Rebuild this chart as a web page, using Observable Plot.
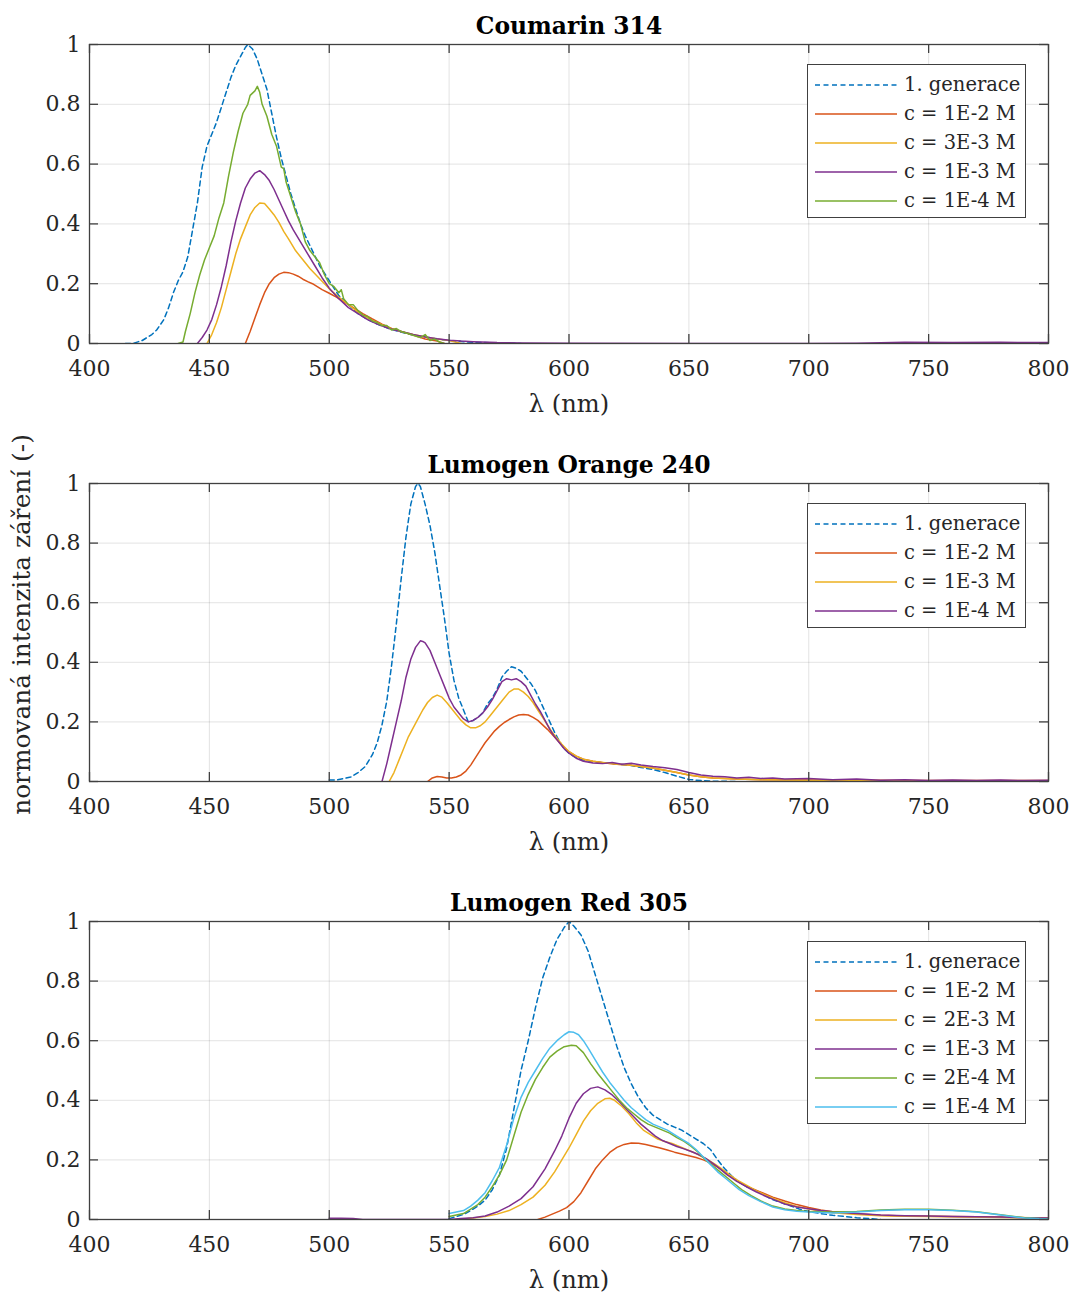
<!DOCTYPE html>
<html>
<head>
<meta charset="utf-8">
<script src="https://cdn.jsdelivr.net/npm/d3@7"></script>
<script src="https://cdn.jsdelivr.net/npm/@observablehq/plot@0.6"></script>
<style>
  body { margin: 0; background: #fff; }
  .panel { position: relative; width: 1073px; }
  .legend { position: absolute; background: #fff; border: 1.3px solid #404040; box-sizing: border-box;
            font-family: "DejaVu Serif", serif; font-size: 19.5px; color: #262626; padding: 5px 0 2px 0; }
  .legend .row { height: 29px; display: flex; align-items: center; }
  .legend svg { margin-left: 7px; margin-right: 7px; flex: none; }
</style>
</head>
<body>
<div id="root"></div>
<script>
// ---------- tick values ----------
const xTicks = [400, 450, 500, 550, 600, 650, 700, 750, 800];
const yTicks = [0, 0.2, 0.4, 0.6, 0.8, 1];

// ---------- panel titles ----------
const titles = ["Coumarin 314", "Lumogen Orange 240", "Lumogen Red 305"];
const xLabel = "λ (nm)";
const yLabel = "normovaná intenzita záření (-)";

// ---------- Coumarin 314 ----------
const c314_labels = ["1. generace", "c = 1E-2 M", "c = 3E-3 M", "c = 1E-3 M", "c = 1E-4 M"];
const c314_gen1 = [[415,0],[418,0],[422,0.01],[426,0.03],[428,0.045],[431,0.08],[433,0.12],[435,0.17],[437,0.21],[439,0.24],[441,0.29],[443,0.38],[445,0.47],[447,0.59],[449,0.66],[451,0.70],[453,0.74],[455,0.79],[457,0.84],[459,0.89],[461,0.93],[463,0.96],[465,0.99],[466,1.0],[468,0.985],[470,0.95],[472,0.90],[474,0.85],[476,0.77],[478,0.69],[480,0.62],[482,0.56],[484,0.50],[486,0.45],[488,0.40],[490,0.36],[493,0.31],[496,0.26],[500,0.21],[504,0.16],[508,0.13],[512,0.10],[516,0.08],[520,0.065],[525,0.05],[530,0.038],[535,0.028],[540,0.022],[545,0.015],[550,0.01],[555,0.007],[560,0.004],[570,0.002],[580,0]];
const c314_1e2 = [[465,0],[467,0.04],[469,0.085],[471,0.13],[473,0.17],[475,0.2],[477,0.22],[479,0.232],[481,0.238],[483,0.237],[485,0.232],[487,0.225],[489,0.215],[491,0.207],[493,0.2],[495,0.19],[497,0.18],[500,0.168],[503,0.155],[506,0.14],[510,0.12],[514,0.1],[518,0.082],[522,0.065],[526,0.05],[530,0.04],[535,0.028],[540,0.015],[545,0.008],[548,0]];
const c314_3e3 = [[449,0],[451,0.03],[453,0.07],[455,0.12],[457,0.18],[459,0.24],[461,0.30],[463,0.35],[465,0.39],[467,0.43],[469,0.455],[471,0.47],[473,0.468],[475,0.45],[477,0.43],[479,0.405],[481,0.375],[483,0.35],[486,0.31],[489,0.28],[492,0.25],[495,0.225],[498,0.20],[501,0.175],[504,0.155],[508,0.13],[512,0.105],[516,0.085],[520,0.07],[525,0.052],[530,0.04],[535,0.03],[540,0.022],[545,0.015],[550,0.01],[555,0]];
const c314_1e3 = [[445,0],[447,0.02],[449,0.045],[451,0.08],[453,0.13],[455,0.19],[457,0.26],[459,0.34],[461,0.41],[463,0.47],[465,0.52],[467,0.55],[469,0.57],[471,0.578],[473,0.565],[475,0.545],[477,0.515],[479,0.48],[481,0.445],[483,0.41],[485,0.38],[488,0.34],[491,0.30],[494,0.26],[497,0.22],[500,0.185],[504,0.15],[508,0.12],[512,0.10],[516,0.08],[520,0.065],[525,0.05],[530,0.04],[535,0.03],[540,0.022],[545,0.016],[550,0.011],[555,0.008],[560,0.006],[570,0.003],[580,0.002],[600,0.001],[650,0],[700,0],[720,0.001],[740,0.004],[760,0.003],[780,0.004],[800,0.003]];
const c314_1e4 = [[437,0],[439,0.005],[440,0.04],[442,0.1],[444,0.17],[446,0.23],[448,0.28],[450,0.32],[452,0.36],[454,0.42],[456,0.47],[458,0.56],[460,0.64],[462,0.71],[464,0.77],[466,0.80],[467,0.83],[469,0.845],[470,0.86],[471,0.84],[472,0.80],[474,0.76],[476,0.70],[478,0.66],[480,0.59],[481,0.585],[482,0.54],[484,0.49],[486,0.44],[488,0.40],[490,0.34],[492,0.31],[494,0.29],[496,0.27],[498,0.23],[500,0.20],[502,0.19],[504,0.17],[505,0.18],[506,0.15],[508,0.13],[510,0.13],[512,0.11],[514,0.095],[516,0.09],[518,0.075],[520,0.07],[522,0.06],[524,0.06],[526,0.045],[528,0.05],[530,0.04],[532,0.035],[534,0.03],[536,0.025],[538,0.02],[540,0.03],[542,0.01],[544,0.015],[546,0.005],[548,0]];

// ---------- Lumogen Orange 240 ----------
const lo240_labels = ["1. generace", "c = 1E-2 M", "c = 1E-3 M", "c = 1E-4 M"];
const lo240_gen1 = [[500,0.005],[503,0.005],[506,0.01],[509,0.015],[512,0.03],[515,0.05],[518,0.09],[520,0.13],[522,0.19],[524,0.27],[526,0.39],[528,0.53],[530,0.68],[532,0.82],[534,0.93],[536,0.99],[537,1.0],[538,0.99],[540,0.93],[542,0.86],[544,0.77],[546,0.66],[548,0.55],[550,0.43],[552,0.34],[554,0.28],[556,0.24],[558,0.2],[560,0.205],[562,0.215],[564,0.23],[566,0.26],[568,0.28],[570,0.31],[572,0.35],[574,0.37],[576,0.385],[578,0.38],[580,0.37],[582,0.35],[584,0.33],[586,0.305],[588,0.27],[590,0.235],[592,0.2],[594,0.165],[596,0.135],[598,0.11],[600,0.095],[603,0.08],[606,0.072],[610,0.066],[615,0.063],[620,0.058],[625,0.055],[630,0.047],[635,0.04],[640,0.03],[645,0.018],[650,0.007],[655,0.003],[660,0.001],[670,0]];
const lo240_1e2 = [[541,0],[543,0.012],[545,0.017],[547,0.015],[549,0.012],[551,0.012],[553,0.015],[555,0.022],[557,0.035],[559,0.055],[561,0.08],[563,0.105],[565,0.13],[567,0.15],[569,0.17],[571,0.185],[573,0.198],[575,0.208],[577,0.217],[579,0.223],[581,0.225],[583,0.223],[585,0.215],[587,0.205],[589,0.19],[591,0.175],[593,0.158],[595,0.14],[597,0.122],[600,0.1],[603,0.085],[606,0.075],[610,0.068],[615,0.062],[620,0.058],[625,0.055],[630,0.05],[635,0.045],[640,0.038],[645,0.03],[650,0.022],[655,0.016],[660,0.012],[670,0.008],[680,0.006],[700,0.005],[720,0.004],[750,0.003],[800,0.003]];
const lo240_1e3 = [[525,0],[527,0.03],[529,0.07],[531,0.11],[533,0.15],[535,0.18],[537,0.21],[539,0.24],[541,0.265],[543,0.282],[545,0.29],[547,0.283],[549,0.265],[551,0.245],[553,0.225],[555,0.205],[557,0.19],[559,0.18],[561,0.18],[563,0.187],[565,0.2],[567,0.22],[569,0.24],[571,0.26],[573,0.28],[575,0.3],[577,0.31],[579,0.31],[581,0.3],[583,0.285],[585,0.265],[587,0.24],[589,0.215],[591,0.19],[593,0.165],[595,0.145],[597,0.125],[600,0.1],[603,0.085],[606,0.075],[610,0.068],[615,0.063],[620,0.058],[625,0.055],[630,0.05],[635,0.045],[640,0.038],[645,0.03],[650,0.022],[655,0.016],[660,0.012],[670,0.008],[680,0.006],[700,0.004],[720,0.003],[750,0.002],[800,0.002]];
const lo240_1e4 = [[522,0],[524,0.06],[526,0.13],[528,0.2],[530,0.27],[532,0.35],[534,0.41],[536,0.45],[538,0.472],[539,0.47],[540,0.465],[542,0.44],[544,0.4],[546,0.36],[548,0.32],[550,0.28],[552,0.25],[554,0.23],[556,0.21],[558,0.2],[560,0.205],[562,0.215],[564,0.23],[566,0.25],[568,0.275],[570,0.305],[572,0.335],[574,0.345],[576,0.341],[578,0.345],[580,0.335],[582,0.32],[584,0.29],[586,0.26],[588,0.235],[590,0.205],[592,0.175],[594,0.15],[596,0.13],[598,0.11],[600,0.095],[603,0.078],[606,0.068],[610,0.062],[614,0.06],[618,0.064],[622,0.058],[626,0.061],[630,0.055],[635,0.05],[640,0.046],[645,0.04],[650,0.03],[655,0.022],[660,0.018],[665,0.016],[670,0.012],[675,0.014],[680,0.01],[685,0.012],[690,0.008],[700,0.01],[710,0.006],[720,0.008],[730,0.004],[740,0.006],[750,0.003],[760,0.005],[770,0.003],[780,0.005],[790,0.003],[800,0.004]];

// ---------- Lumogen Red 305 ----------
const lr305_labels = ["1. generace", "c = 1E-2 M", "c = 2E-3 M", "c = 1E-3 M", "c = 2E-4 M", "c = 1E-4 M"];
const lr305_gen1 = [[550,0.003],[553,0.01],[556,0.017],[559,0.03],[562,0.045],[565,0.065],[568,0.1],[571,0.15],[574,0.24],[577,0.37],[580,0.5],[583,0.6],[586,0.71],[589,0.81],[592,0.88],[595,0.94],[598,0.98],[600,1.0],[602,0.985],[605,0.955],[608,0.9],[611,0.82],[614,0.74],[617,0.66],[620,0.58],[623,0.51],[626,0.455],[629,0.41],[632,0.375],[635,0.35],[638,0.335],[641,0.32],[644,0.31],[647,0.3],[650,0.285],[653,0.27],[656,0.255],[659,0.235],[662,0.2],[665,0.17],[668,0.145],[671,0.125],[674,0.11],[677,0.1],[680,0.09],[684,0.07],[688,0.058],[692,0.047],[696,0.035],[700,0.027],[705,0.02],[710,0.014],[715,0.01],[720,0.006],[725,0.003],[730,0]];
const lr305_1e2 = [[587,0],[590,0.008],[593,0.018],[596,0.028],[599,0.04],[602,0.06],[605,0.09],[608,0.13],[611,0.17],[614,0.2],[617,0.225],[620,0.242],[623,0.252],[626,0.257],[629,0.256],[632,0.252],[635,0.246],[638,0.24],[641,0.233],[644,0.226],[647,0.22],[650,0.214],[653,0.208],[656,0.2],[659,0.19],[662,0.176],[665,0.16],[668,0.142],[671,0.125],[675,0.108],[680,0.092],[685,0.075],[690,0.062],[695,0.05],[700,0.04],[705,0.032],[710,0.026],[720,0.019],[730,0.014],[740,0.012],[760,0.01],[780,0.008],[800,0.004]];
const lr305_2e3 = [[554,0],[560,0.005],[565,0.01],[570,0.018],[575,0.03],[580,0.05],[585,0.075],[590,0.115],[594,0.16],[597,0.2],[600,0.24],[603,0.285],[606,0.33],[609,0.365],[612,0.39],[615,0.405],[617,0.407],[619,0.4],[622,0.38],[625,0.355],[628,0.325],[631,0.3],[634,0.285],[637,0.27],[640,0.262],[643,0.255],[646,0.245],[649,0.235],[652,0.225],[655,0.213],[658,0.2],[661,0.185],[664,0.168],[667,0.15],[670,0.133],[674,0.115],[678,0.097],[682,0.082],[686,0.068],[690,0.056],[695,0.044],[700,0.035],[705,0.028],[710,0.023],[720,0.017],[730,0.013],[740,0.011],[760,0.009],[780,0.007],[800,0.005]];
const lr305_1e3 = [[500,0.004],[505,0.004],[510,0.003],[514,0],[550,0],[555,0.003],[560,0.006],[565,0.012],[570,0.025],[575,0.045],[580,0.07],[585,0.11],[590,0.17],[594,0.23],[597,0.28],[600,0.34],[603,0.39],[606,0.422],[609,0.44],[612,0.445],[615,0.435],[618,0.418],[621,0.395],[624,0.37],[627,0.345],[630,0.32],[633,0.3],[636,0.28],[639,0.265],[642,0.255],[645,0.245],[648,0.237],[651,0.228],[654,0.218],[657,0.205],[660,0.188],[663,0.17],[666,0.15],[670,0.128],[674,0.11],[678,0.093],[682,0.078],[686,0.065],[690,0.052],[695,0.042],[700,0.036],[705,0.03],[710,0.026],[720,0.02],[730,0.015],[740,0.013],[750,0.012],[760,0.01],[770,0.009],[780,0.008],[790,0.006],[800,0.005]];
const lr305_2e4 = [[550,0.01],[553,0.015],[556,0.02],[559,0.035],[562,0.05],[565,0.075],[568,0.11],[571,0.15],[574,0.2],[577,0.28],[580,0.36],[583,0.42],[586,0.47],[589,0.51],[592,0.545],[595,0.565],[598,0.58],[601,0.585],[603,0.583],[606,0.56],[609,0.523],[612,0.49],[615,0.46],[618,0.43],[621,0.4],[624,0.375],[627,0.355],[630,0.335],[633,0.32],[636,0.31],[639,0.3],[642,0.29],[645,0.275],[648,0.262],[651,0.245],[654,0.225],[657,0.2],[660,0.18],[663,0.16],[666,0.14],[669,0.12],[672,0.1],[676,0.08],[680,0.062],[685,0.045],[690,0.035],[695,0.03],[700,0.027],[710,0.025],[720,0.027],[730,0.032],[740,0.034],[750,0.034],[760,0.031],[770,0.026],[780,0.016],[790,0.006],[800,0.002]];
const lr305_1e4 = [[550,0.02],[553,0.025],[556,0.03],[559,0.045],[562,0.065],[565,0.09],[568,0.13],[571,0.175],[574,0.25],[577,0.34],[580,0.41],[583,0.46],[586,0.5],[589,0.54],[592,0.575],[595,0.6],[598,0.62],[600,0.63],[602,0.628],[604,0.62],[606,0.6],[608,0.575],[611,0.535],[614,0.495],[617,0.46],[620,0.43],[623,0.4],[626,0.375],[629,0.355],[632,0.335],[635,0.32],[638,0.31],[641,0.3],[644,0.285],[647,0.27],[650,0.255],[653,0.235],[656,0.21],[659,0.185],[662,0.16],[665,0.14],[668,0.12],[671,0.1],[675,0.08],[680,0.06],[685,0.042],[690,0.033],[695,0.028],[700,0.025],[710,0.022],[720,0.025],[730,0.03],[740,0.033],[750,0.033],[760,0.03],[770,0.025],[780,0.015],[790,0.005],[800,0.002]];

// ---------- colours ----------
const cBlue = "#0072BD", cRed = "#D95319", cYellow = "#EDB120", cPurple = "#7E2F8E", cGreen = "#77AC30", cCyan = "#4DBEEE";
const c314_colors = [cBlue, cRed, cYellow, cPurple, cGreen];
const lo240_colors = [cBlue, cRed, cYellow, cPurple];
const lr305_colors = [cBlue, cRed, cYellow, cPurple, cGreen, cCyan];

const panels = [
  {title: titles[0], labels: c314_labels, colors: c314_colors, data: [c314_gen1, c314_1e2, c314_3e3, c314_1e3, c314_1e4], height: 438, mt: 44, fh: 299, ylab: false},
  {title: titles[1], labels: lo240_labels, colors: lo240_colors, data: [lo240_gen1, lo240_1e2, lo240_1e3, lo240_1e4], height: 438, mt: 45, fh: 298, ylab: true},
  {title: titles[2], labels: lr305_labels, colors: lr305_colors, data: [lr305_gen1, lr305_1e2, lr305_2e3, lr305_1e3, lr305_2e4, lr305_1e4], height: 420, mt: 45, fh: 298, ylab: false}
];

const ML = 89, MR = 25, W = 1073, FW = W - ML - MR, TICK = 9;
const axisColor = "#404040";
const root = document.getElementById("root");

for (const p of panels) {
  const mb = p.height - p.mt - p.fh;
  const marks = [
    Plot.gridX(xTicks, {stroke: "#262626", strokeOpacity: 0.13}),
    Plot.gridY(yTicks, {stroke: "#262626", strokeOpacity: 0.13}),
    ...p.data.map((pts, i) => Plot.line(pts, {
      x: d => d[0], y: d => d[1], stroke: p.colors[i], strokeWidth: 1.5,
      strokeDasharray: i === 0 ? "5,3.5" : null, clip: true
    })),
    Plot.frame({stroke: axisColor, strokeWidth: 1.3}),
    Plot.tickX(xTicks, {x: d => d, insetTop: p.fh - TICK, stroke: axisColor, strokeWidth: 1.3}),
    Plot.tickX(xTicks, {x: d => d, insetBottom: p.fh - TICK, stroke: axisColor, strokeWidth: 1.3}),
    Plot.tickY(yTicks, {y: d => d, insetRight: FW - TICK, stroke: axisColor, strokeWidth: 1.3}),
    Plot.tickY(yTicks, {y: d => d, insetLeft: FW - TICK, stroke: axisColor, strokeWidth: 1.3}),
    Plot.axisX(xTicks, {tickSize: 0, tickPadding: 17, label: null, fontSize: 22, fill: "#262626", tickFormat: d => String(d)}),
    Plot.axisY(yTicks, {tickSize: 0, tickPadding: 9, label: null, fontSize: 22, fill: "#262626", tickFormat: d => String(d)}),
    Plot.text([p.title], {text: d => d, frameAnchor: "top", dy: -18, lineAnchor: "middle", textAnchor: "middle", fontWeight: "bold", fontSize: 23.4, fill: "#000"}),
    Plot.text([xLabel], {text: d => d, frameAnchor: "bottom", dy: 61, lineAnchor: "middle", textAnchor: "middle", fontSize: 24.2, fill: "#262626"})
  ];
  if (p.ylab) {
    marks.push(Plot.text([yLabel], {text: d => d, frameAnchor: "left", dx: -67, dy: -8, rotate: -90, lineAnchor: "middle", textAnchor: "middle", fontSize: 24.8, fill: "#262626"}));
  }
  const svg = Plot.plot({
    width: W, height: p.height,
    marginLeft: ML, marginRight: MR, marginTop: p.mt, marginBottom: mb,
    x: {type: "linear", domain: [400, 800]},
    y: {type: "linear", domain: [0, 1]},
    style: {fontFamily: "DejaVu Serif, serif", fontSize: "22px", color: "#262626", background: "#fff", overflow: "visible"},
    marks
  });
  const wrap = document.createElement("div");
  wrap.className = "panel";
  wrap.style.height = p.height + "px";
  wrap.appendChild(svg);

  const leg = document.createElement("div");
  leg.className = "legend";
  leg.style.left = "807px";
  leg.style.top = (p.mt + 20) + "px";
  leg.style.width = "219px";
  p.labels.forEach((lab, i) => {
    const row = document.createElement("div");
    row.className = "row";
    const s = document.createElementNS("http://www.w3.org/2000/svg", "svg");
    s.setAttribute("width", 82); s.setAttribute("height", 10);
    const ln = document.createElementNS("http://www.w3.org/2000/svg", "line");
    ln.setAttribute("x1", 0); ln.setAttribute("x2", 82); ln.setAttribute("y1", 5); ln.setAttribute("y2", 5);
    ln.setAttribute("stroke", p.colors[i]); ln.setAttribute("stroke-width", 1.5);
    if (i === 0) ln.setAttribute("stroke-dasharray", "5,3.5");
    s.appendChild(ln);
    const t = document.createElement("span");
    t.textContent = lab;
    row.appendChild(s); row.appendChild(t);
    leg.appendChild(row);
  });
  wrap.appendChild(leg);
  root.appendChild(wrap);
}
</script>
</body>
</html>
